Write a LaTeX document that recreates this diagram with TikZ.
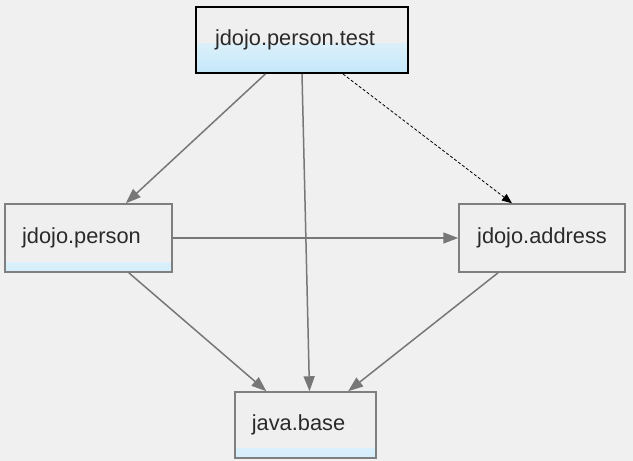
\documentclass[tikz,border=0pt]{standalone}
\usepackage{fontspec}
\setmainfont{Liberation Sans}
\usetikzlibrary{arrows.meta}

\definecolor{bggray}{HTML}{F0F0F0}
\definecolor{boxgray}{HTML}{EFEFEF}
\definecolor{edgegray}{HTML}{7F7F7F}
\definecolor{linegray}{HTML}{777777}
\definecolor{paleblue}{HTML}{C4E8FA}
\definecolor{stripblue}{HTML}{D4EEFA}
\definecolor{txtgray}{HTML}{2A2A2A}

% module name, set a little left of the box centre
\newcommand\modname[1]{\hspace*{-14pt}#1}

\begin{document}
\begin{tikzpicture}[
  x=1pt, y=-1pt,
  every node/.style={font=\fontsize{21.8}{24}\selectfont, text=txtgray},
  modbox/.style={rectangle,draw=edgegray,line width=1.5pt,fill=boxgray,inner sep=0pt},
  topbox/.style={modbox,draw=black,line width=2pt,
    path picture={\shade[top color=white!60!boxgray,bottom color=paleblue]
      ([yshift=-3pt]path picture bounding box.west) rectangle (path picture bounding box.south east);}},
  stripbox/.style={modbox,
    path picture={\shade[top color=white!70!boxgray,bottom color=stripblue]
      ([yshift=10pt]path picture bounding box.south west) rectangle (path picture bounding box.south east);}},
  dep/.style={draw=linegray,line width=1.5pt,-{Triangle[length=15pt,width=11pt,fill=linegray]}},
  optdep/.style={draw=black,line width=0.8pt,dash pattern=on 3pt off 2pt,-{Triangle[length=10pt,width=8pt]}}
]
\fill[bggray] (0,0) rectangle (633,461);
\useasboundingbox (0,0) rectangle (633,461);

\node[topbox, minimum width=212pt, minimum height=66pt] (test) at (302,40) {\modname{jdojo.person.test}};
\node[stripbox, minimum width=167pt, minimum height=68pt] (person) at (88.5,238) {\modname{jdojo.person}};
\node[modbox, minimum width=166pt, minimum height=68pt] (address) at (542,238) {jdojo.address};
\node[stripbox, minimum width=141pt, minimum height=66pt] (base) at (305.5,425) {\modname{java.base}};

\draw[dep] (test) -- (person);
\draw[dep] (test.south) -- ([xshift=4pt]base.north);
\draw[optdep] ([xshift=41pt]test.south) -- ([xshift=-30pt]address.north);
\draw[dep] (person) -- (address);
\draw[dep] (person) -- (base);
\draw[dep] (address) -- (base);
\end{tikzpicture}
\end{document}
